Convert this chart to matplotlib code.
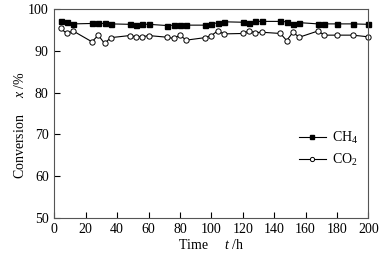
import matplotlib
matplotlib.use("Agg")
import matplotlib.pyplot as plt

# 时间 t /h
t = [4, 8, 12, 24, 28, 32, 36, 48, 52, 56, 60, 72, 76, 80, 84, 96,
     100, 104, 108, 120, 124, 128, 132, 144, 148, 152, 156, 168, 172, 180, 190, 200]
# CH4 转化率 /%
ch4 = [97.2, 97.0, 96.5, 96.6, 96.6, 96.6, 96.5, 96.4, 96.3, 96.4, 96.4, 96.1, 96.2, 96.2, 96.2, 96.2,
       96.4, 96.8, 97.0, 96.9, 96.7, 97.1, 97.1, 97.1, 97.0, 96.5, 96.8, 96.5, 96.5, 96.5, 96.5, 96.4]
# CO2 转化率 /%
co2 = [95.4, 94.2, 94.8, 92.2, 93.8, 91.8, 93.2, 93.7, 93.4, 93.4, 93.7, 93.3, 93.0, 93.8, 92.6, 93.2,
       93.7, 94.8, 94.1, 94.2, 94.8, 94.4, 94.5, 94.2, 92.5, 94.5, 93.3, 94.8, 93.8, 93.8, 93.8, 93.4]

plt.rcParams['font.family'] = ['Liberation Serif', 'DejaVu Serif']
plt.rcParams['mathtext.fontset'] = 'custom'
plt.rcParams['mathtext.rm'] = 'Liberation Serif'
plt.rcParams['mathtext.it'] = 'Liberation Serif:italic'
plt.rcParams['font.size'] = 10

fig = plt.figure(figsize=(3.89, 2.57), dpi=100)
ax = fig.add_axes([0.1396, 0.1529, 0.8072, 0.8109])

ax.plot(t, ch4, '-', color='black', lw=0.8, marker='s', ms=3.6,
        mfc='black', mec='black', label='CH$_4$', clip_on=False)
ax.plot(t, co2, '-', color='black', lw=0.8, marker='o', ms=3.8,
        mfc='white', mec='black', mew=0.7, label='CO$_2$', clip_on=False)

ax.set_xlim(0, 200)
ax.set_ylim(50, 100)
ax.set_xticks(range(0, 201, 20))
ax.set_yticks(range(50, 101, 10))
ax.tick_params(direction='in', length=4, width=0.8, top=False, right=False, pad=4)
for s in ax.spines.values():
    s.set_linewidth(0.8)
    s.set_color('#555555')

ax.set_xlabel('Time     $t$ /h', labelpad=1)
ax.set_ylabel('Conversion     $x$ /%')
ax.yaxis.set_label_coords(-0.088, 0.445)

ax.legend(loc='upper left', bbox_to_anchor=(0.76, 0.45), frameon=False,
          handlelength=2.0, handletextpad=0.4, labelspacing=0.45,
          markerscale=0.8, borderaxespad=0)

fig.savefig('out.png', dpi=100)
